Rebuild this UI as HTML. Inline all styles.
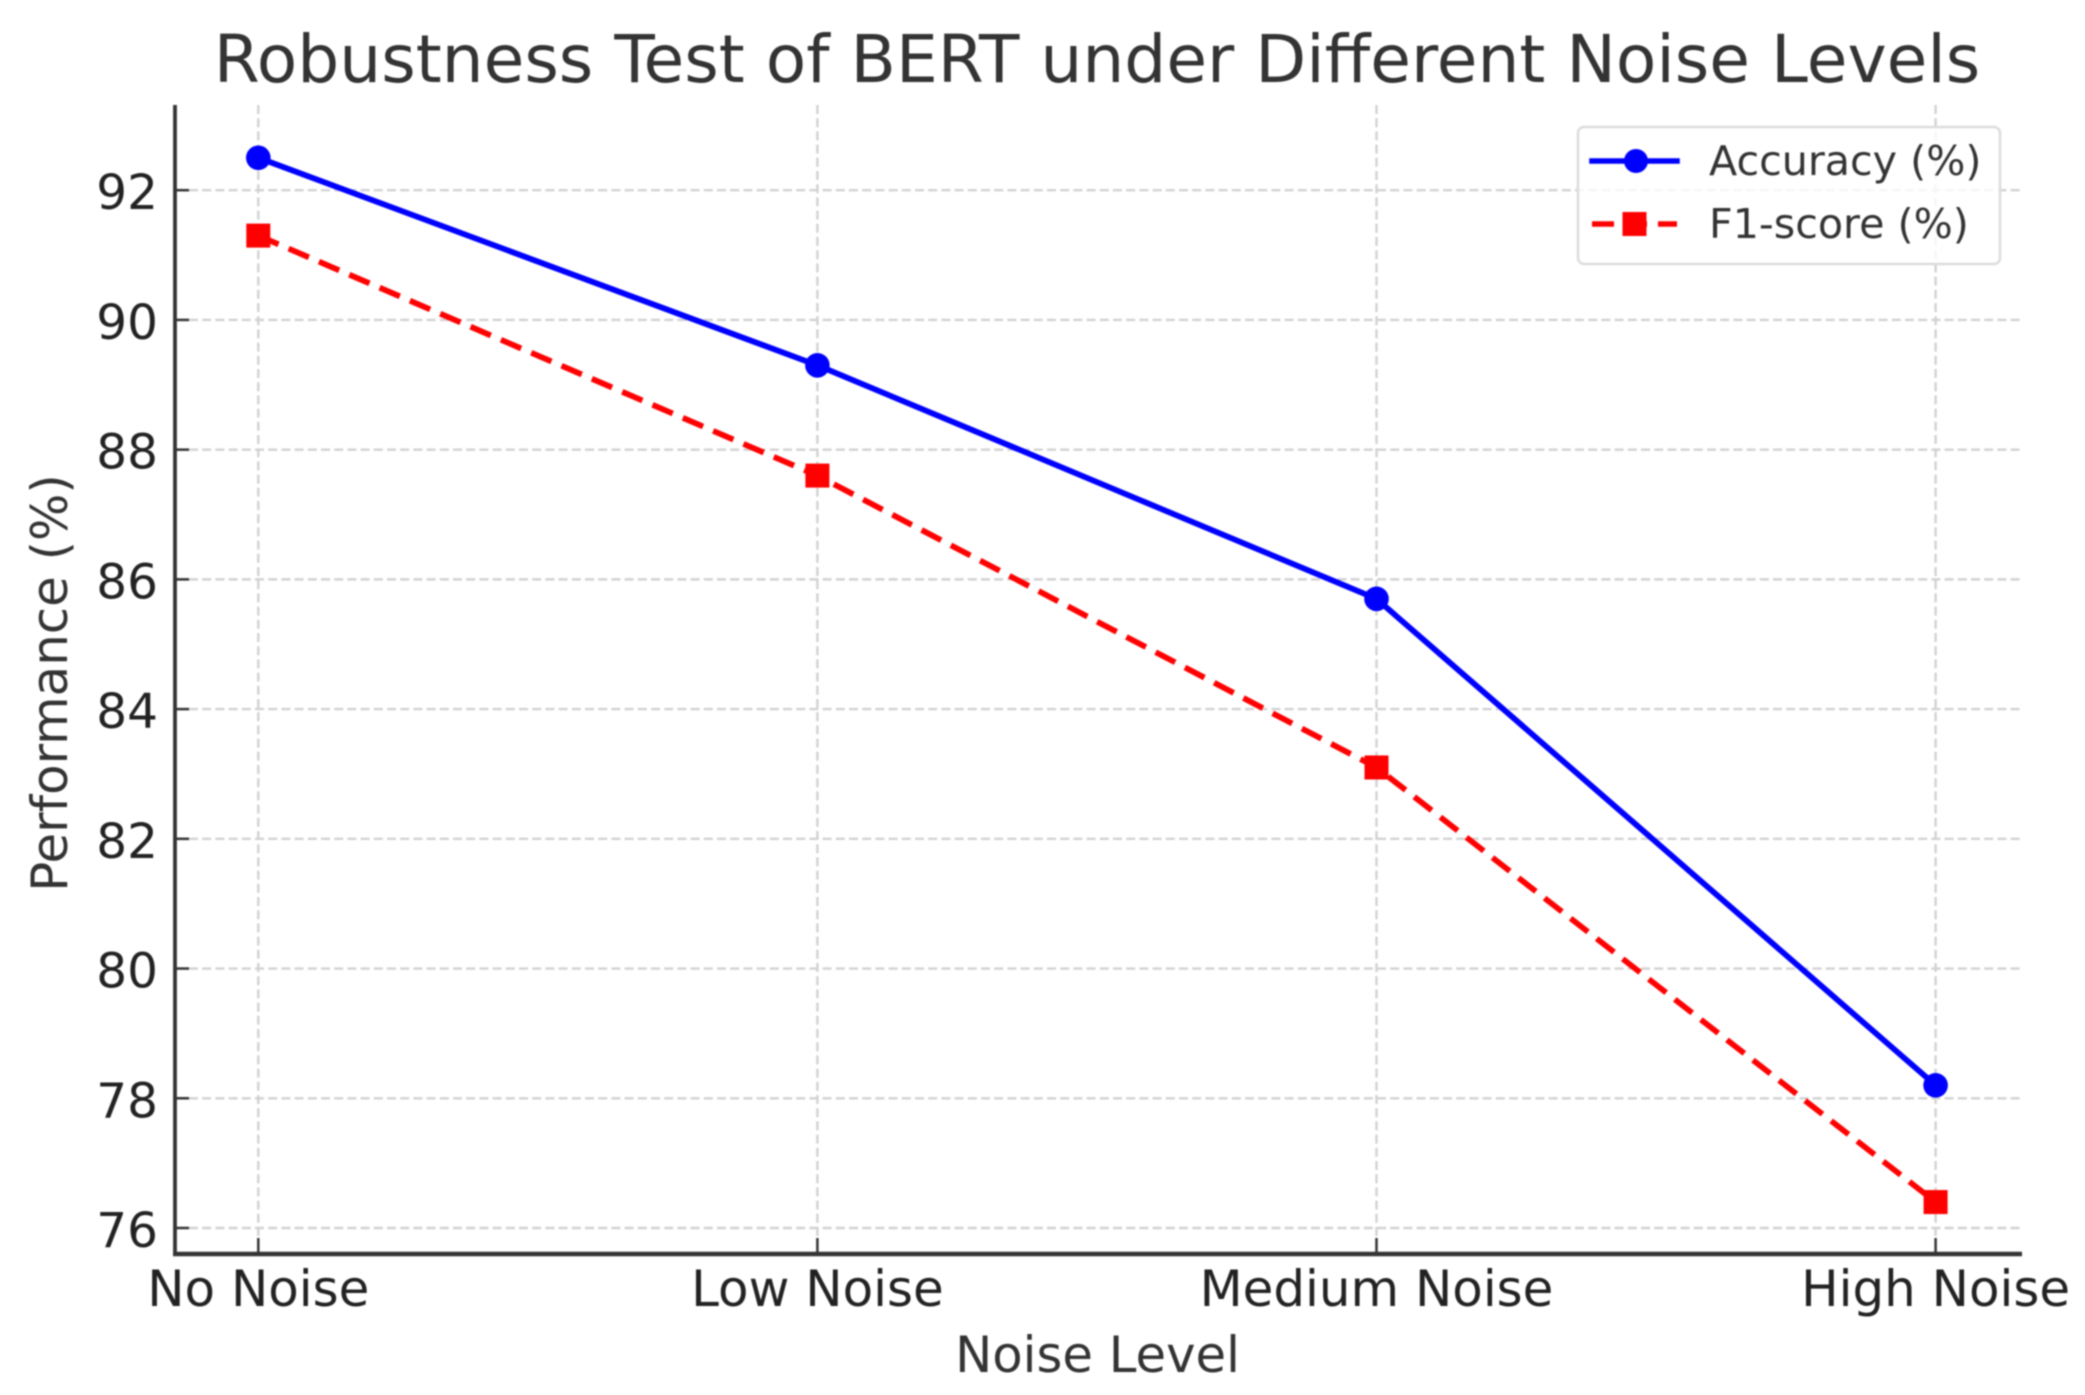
<!DOCTYPE html>
<html lang="en">
<head>
<meta charset="utf-8">
<title>Robustness Test of BERT under Different Noise Levels</title>
<style>
  html, body { margin: 0; padding: 0; background: #fff; }
  svg { display: block; filter: blur(0.9px); }
  text { font-family: "DejaVu Sans", "Liberation Sans", sans-serif; }
</style>
</head>
<body>
<svg id="chart" xmlns="http://www.w3.org/2000/svg" width="2085" height="1395" viewBox="0 0 2085 1395">
  <rect x="0" y="0" width="2085" height="1395" fill="#fff"/>
  <g id="grid"></g>
  <g id="axes"></g>
  <g id="series"></g>
  <text x="1097" y="82" font-size="66.2" fill="#333" text-anchor="middle">Robustness Test of BERT under Different Noise Levels</text>
  <text x="1097.5" y="1372" font-size="49.7" fill="#333" text-anchor="middle">Noise Level</text>
  <text transform="translate(67 683) rotate(-90)" font-size="49.8" fill="#333" text-anchor="middle">Performance (%)</text>
  <g>
    <rect x="1578" y="127" width="422" height="137" rx="6" ry="6" fill="#fff" fill-opacity="0.8" stroke="#dcdcdc" stroke-width="2.5"/>
    <g>
      <line x1="1592" y1="161" x2="1677" y2="161" stroke="#0000ff" stroke-width="5.6" stroke-linecap="square"/>
      <circle cx="1636" cy="161" r="12" fill="#0000ff"/>
      <text x="1709" y="175" font-size="41.2" fill="#333">Accuracy (%)</text>
    </g>
    <g>
      <line x1="1592" y1="224" x2="1677" y2="224" stroke="#ff0000" stroke-width="5.6" stroke-dasharray="22 11"/>
      <rect x="1622.5" y="212" width="24" height="24" fill="#ff0000"/>
      <text x="1709" y="238" font-size="41.2" fill="#333">F1-score (%)</text>
    </g>
  </g>
</svg>
<script>
const categories = ["No Noise", "Low Noise", "Medium Noise", "High Noise"];
const accuracyValues = [92.5, 89.3, 85.7, 78.2];
const f1Values = [91.3, 87.6, 83.1, 76.4];
const yTickValues = [76, 78, 80, 82, 84, 86, 88, 90, 92];

const SVG_NS = "http://www.w3.org/2000/svg";
const plotLeft = 175;
const plotRight = 2022;
const plotTop = 105;
const plotBottom = 1254;

function xScale(index) {
  return 258.3 + index * (1935.6 - 258.3) / (categories.length - 1);
}
function yScale(value) {
  return 190.2 + (92 - value) * (1228 - 190.2) / 16;
}
function make(tag, attrs, parent) {
  const node = document.createElementNS(SVG_NS, tag);
  for (const key in attrs) {
    node.setAttribute(key, attrs[key]);
  }
  parent.appendChild(node);
  return node;
}

const gridGroup = document.getElementById("grid");
const axesGroup = document.getElementById("axes");
const seriesGroup = document.getElementById("series");

yTickValues.forEach(function (tick) {
  const y = yScale(tick);
  const grid = make("line", { x1: plotLeft + 14, y1: y, x2: plotRight, y2: y, stroke: "#d2d2d2", "stroke-width": 2.4, "stroke-dasharray": "9 4.2" }, gridGroup);
  
  
  const mark = make("line", { x1: plotLeft, y1: y, x2: plotLeft + 14, y2: y, stroke: "#333", "stroke-width": 2.5 }, axesGroup);
  
  
  const label = make("text", { x: 158, y: y + 19, "font-size": 48.5, fill: "#222", "text-anchor": "end" }, axesGroup);
  
  
  label.textContent = String(tick);
});

categories.forEach(function (name, index) {
  const x = xScale(index);
  const grid = make("line", { x1: x, y1: plotTop, x2: x, y2: plotBottom - 16, stroke: "#d2d2d2", "stroke-width": 2.4, "stroke-dasharray": "9 4.2" }, gridGroup);
  
  
  const mark = make("line", { x1: x, y1: plotBottom - 16, x2: x, y2: plotBottom, stroke: "#333", "stroke-width": 2.5 }, axesGroup);
  
  
  const label = make("text", { x: x, y: 1306, "font-size": 49.9, fill: "#222", "text-anchor": "middle" }, axesGroup);
  
  
  label.textContent = name;
});

const leftSpine = make("line", { x1: plotLeft, y1: plotTop, x2: plotLeft, y2: plotBottom + 2, stroke: "#333", "stroke-width": 3.8 }, axesGroup);


const bottomSpine = make("line", { x1: plotLeft - 2, y1: plotBottom, x2: plotRight, y2: plotBottom, stroke: "#333", "stroke-width": 4.6 }, axesGroup);



function linePoints(values) {
  return values.map(function (value, index) {
    return xScale(index) + "," + yScale(value);
  }).join(" ");
}

const accuracyLine = make("polyline", { points: linePoints(accuracyValues), fill: "none", stroke: "#0000ff", "stroke-width": 5.8, "stroke-linejoin": "round" }, seriesGroup);



const f1Line = make("polyline", { points: linePoints(f1Values), fill: "none", stroke: "#ff0000", "stroke-width": 5.8, "stroke-dasharray": "22 11", "stroke-linejoin": "round" }, seriesGroup);



accuracyValues.forEach(function (value, index) {
  const dot = make("circle", { cx: xScale(index), cy: yScale(value), r: 12.3, fill: "#0000ff" }, seriesGroup);
  
  
});

f1Values.forEach(function (value, index) {
  const square = make("rect", { x: xScale(index) - 12, y: yScale(value) - 12, width: 24, height: 24, fill: "#ff0000" }, seriesGroup);
  
  
});
</script>
</body>
</html>
